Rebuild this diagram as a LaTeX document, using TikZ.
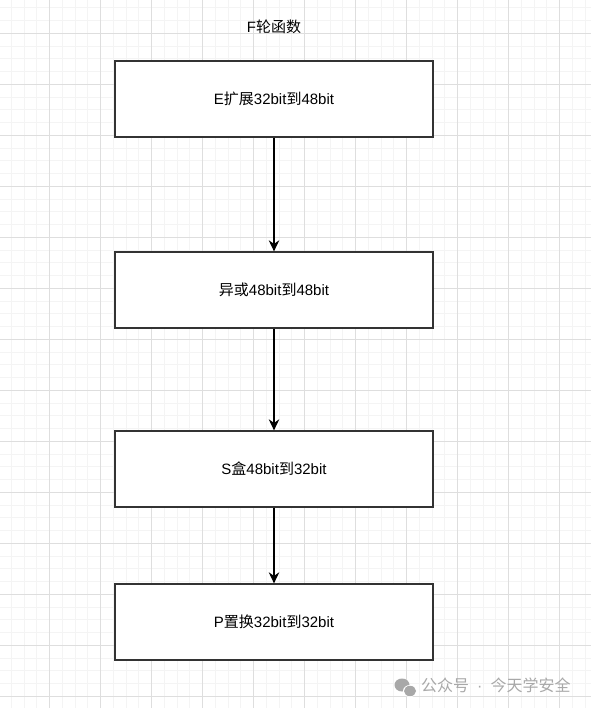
\documentclass[tikz,border=0pt]{standalone}
\usepackage{fontspec}
\setmainfont{Liberation Sans}
\newfontfamily\cjk{Noto Sans CJK SC}
\newcommand{\zh}[1]{{\cjk #1}}
\usetikzlibrary{arrows.meta}
\definecolor{minorgrid}{HTML}{F4F4F4}
\definecolor{majorgrid}{HTML}{DEDEDE}
\definecolor{boxline}{HTML}{333333}
\definecolor{wmgray}{HTML}{A8A8A8}
\tikzset{
  stagebox/.style={draw=boxline, line width=1.3pt, fill=white, minimum width=318pt, minimum height=76pt, inner sep=0pt, font=\fontsize{15}{17}\selectfont},
  flowarrow/.style={draw=black, line width=1.3pt, -{Stealth[length=11pt,width=10.5pt,inset=3.5pt]}},
}
\begin{document}
\begin{tikzpicture}[x=1pt,y=-1pt]
\useasboundingbox (0,0) rectangle (591,708);
\fill[white] (0,0) rectangle (591,708);
% minor grid
\foreach \i in {0,...,46} {
  \draw[minorgrid, line width=1pt] ({11.25+12.75*\i},0) -- ({11.25+12.75*\i},708);
}
\foreach \i in {0,...,55} {
  \draw[minorgrid, line width=1pt] (0,{7.8+12.75*\i}) -- (591,{7.8+12.75*\i});
}
% major grid
\foreach \i in {0,...,11} {
  \draw[majorgrid, line width=1pt] ({49.5+51*\i},0) -- ({49.5+51*\i},708);
}
\foreach \i in {0,...,13} {
  \draw[majorgrid, line width=1pt] (0,{33.3+51*\i}) -- (591,{33.3+51*\i});
}
% title
\node[font=\fontsize{15}{17}\selectfont] (title) at (274,27) {F\zh{轮函数}};
% boxes
\node[stagebox] (e) at (274,99) {E\zh{扩展}32bit\zh{到}48bit};
\node[stagebox] (x) at (274,290) {\zh{异或}48bit\zh{到}48bit};
\node[stagebox] (s) at (274,469) {S\zh{盒}48bit\zh{到}32bit};
\node[stagebox] (p) at (274,622) {P\zh{置换}32bit\zh{到}32bit};
% arrows
\draw[flowarrow] (e) -- (x);
\draw[flowarrow] (x) -- (s);
\draw[flowarrow] (s) -- (p);
% watermark
\fill[wmgray] (402,685) ellipse (7.5pt and 6.5pt);
\fill[white] (410,691) ellipse (7pt and 6pt);
\fill[wmgray] (410,691) ellipse (6pt and 5.2pt);
\node[anchor=west, text=wmgray, font=\fontsize{16}{18}\selectfont, inner sep=0pt] (wm) at (421,685) {\zh{公众号}\hspace{8pt}·\hspace{8pt}\zh{今天学安全}};
\end{tikzpicture}
\end{document}
